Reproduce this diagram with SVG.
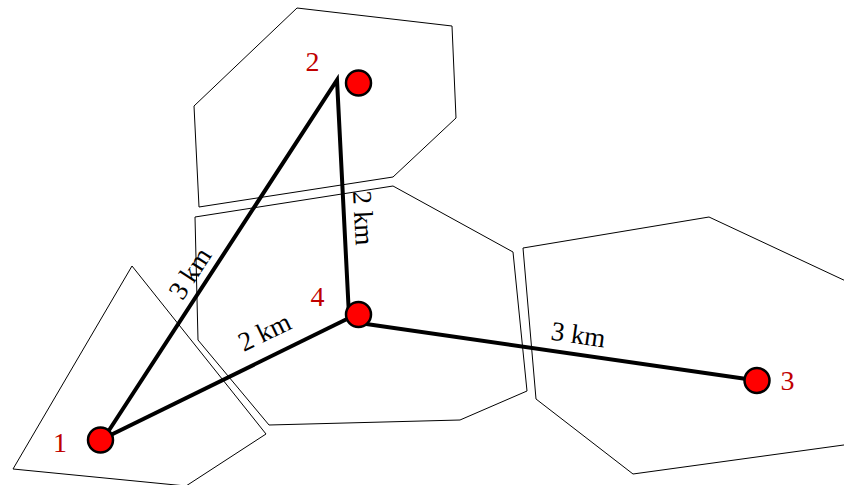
<svg xmlns="http://www.w3.org/2000/svg" width="844" height="485" viewBox="0 0 844 485">
<style>
.cell{fill:none;stroke:#000;stroke-width:1}
.edge{fill:none;stroke:#000;stroke-width:4;stroke-linejoin:miter;stroke-linecap:butt}
.node{fill:#ff0000;stroke:#000;stroke-width:2.5}
.nlab{font-family:"Liberation Serif",serif;font-size:28px;fill:#c00000;text-anchor:middle}
.elab{font-family:"Liberation Serif",serif;font-size:27px;fill:#000;text-anchor:middle}
</style>
<rect width="844" height="485" fill="#fff"/>
<g id="cells">
<polygon class="cell" points="297,8 452,26 456,118 393,177 199,207 194,106"/>
<polygon class="cell" points="195,217 393,186 513,252 527,391 460,420 269,425 198,340"/>
<polygon class="cell" points="132,266 266,434 186,486 13,469"/>
<polygon class="cell" points="523,248 709,217 880,297 880,440 633,474 536,399"/>
</g>
<g id="connectors">
<path class="edge" d="M104,438 L337,80 L349,316"/>
<line class="edge" x1="100.5" y1="440" x2="349" y2="318"/>
<line class="edge" x1="349" y1="321.5" x2="757" y2="380.5"/>
<text class="elab" transform="translate(197.5,278.2) rotate(-56.9)">3 km</text>
<text class="elab" transform="translate(354.4,218.5) rotate(87.1)">2 km</text>
<text class="elab" transform="translate(268.4,340) rotate(-25.8)">2 km</text>
<text class="elab" transform="translate(577,343.5) rotate(8.2)">3 km</text>
</g>
<g id="node1">
<circle class="node" cx="100.5" cy="440" r="12.5"/>
<text class="nlab" x="60" y="451.5">1</text>
</g>
<g id="node2">
<circle class="node" cx="358.5" cy="83" r="12.5"/>
<text class="nlab" x="312.5" y="71">2</text>
</g>
<g id="node4">
<circle class="node" cx="358.5" cy="314.5" r="12.5"/>
<text class="nlab" x="317.5" y="306">4</text>
</g>
<g id="node3">
<circle class="node" cx="757" cy="380.5" r="12.5"/>
<text class="nlab" x="787.5" y="389.5">3</text>
</g>
</svg>
